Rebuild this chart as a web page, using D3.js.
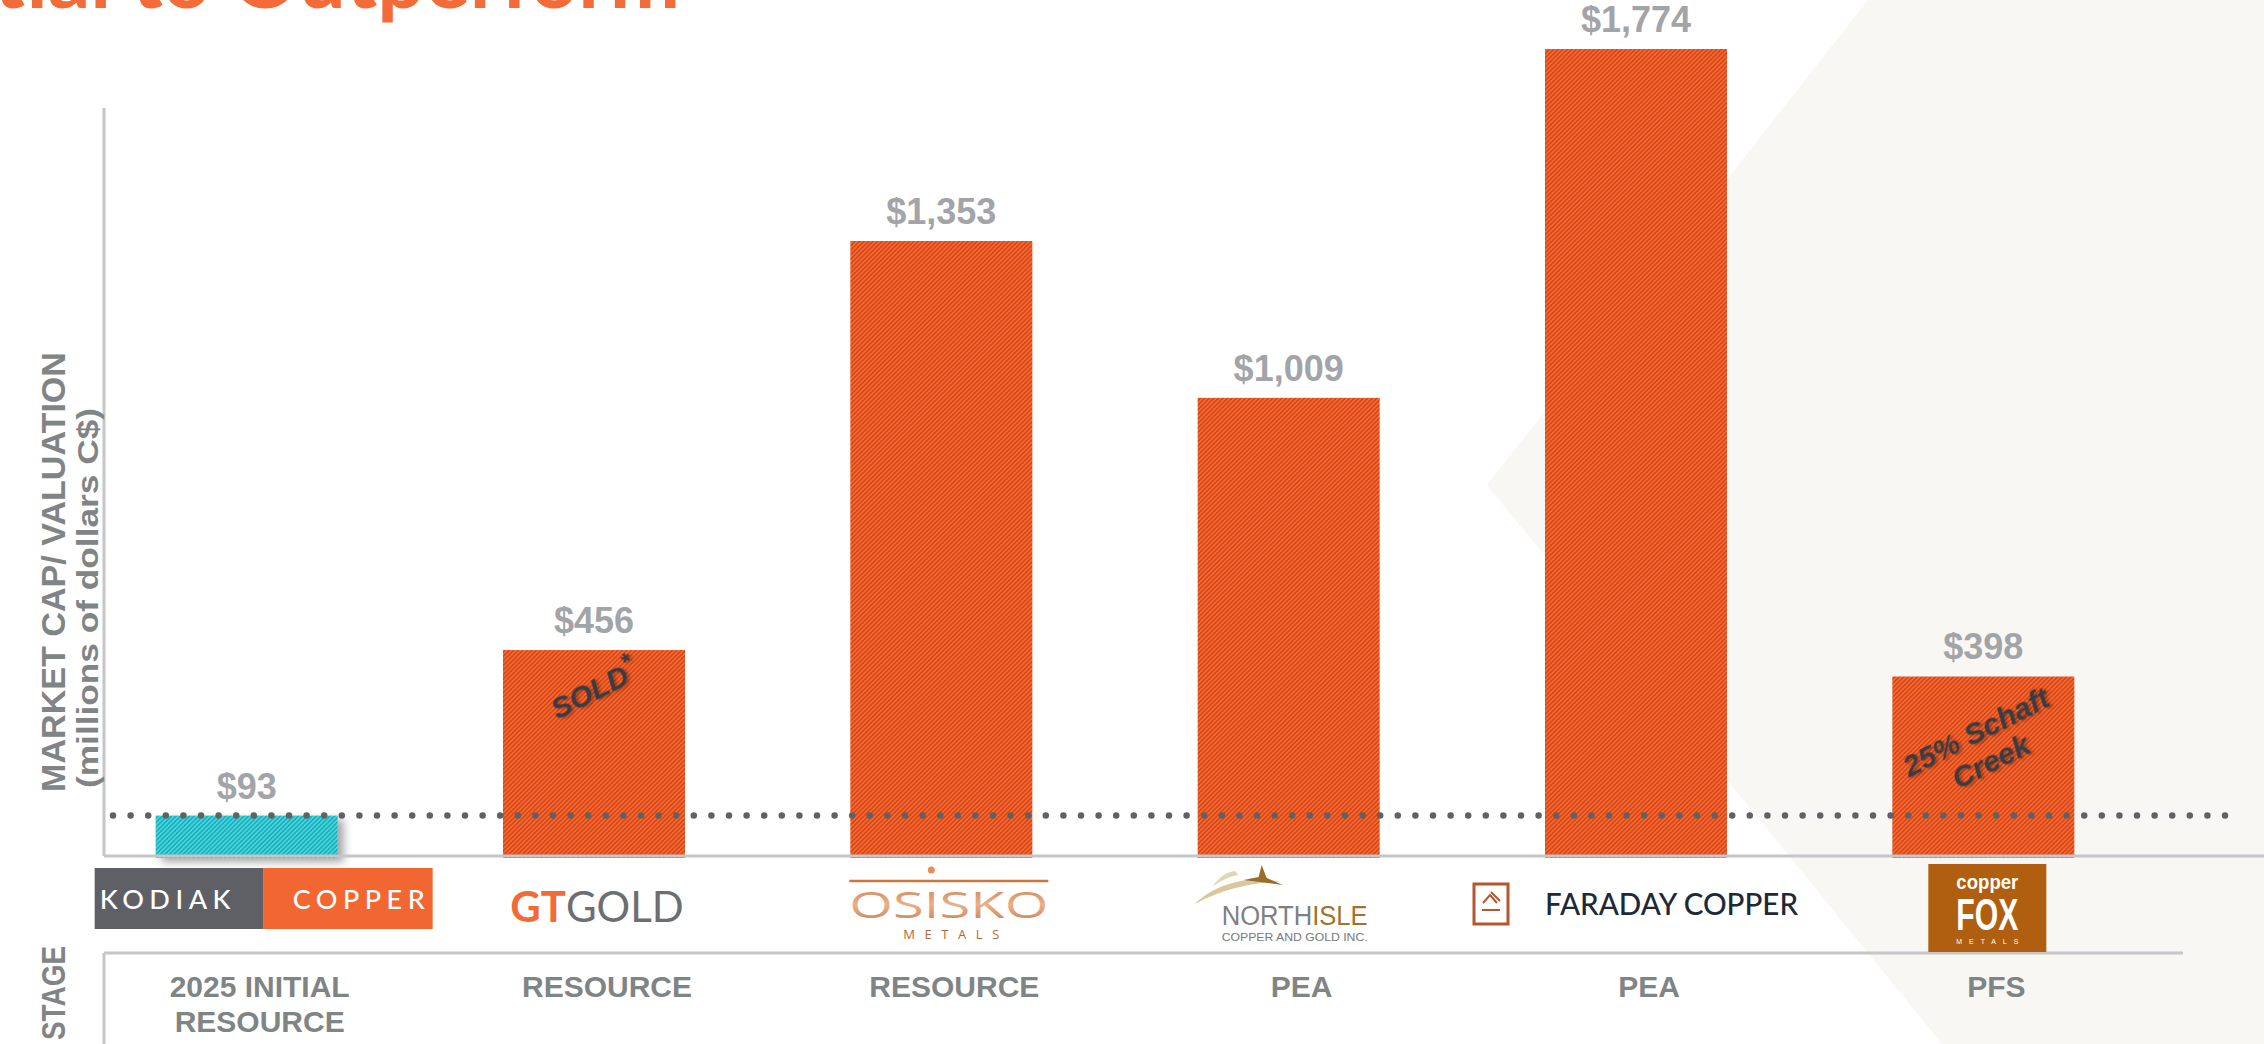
<!DOCTYPE html>
<html>
<head>
<meta charset="utf-8">
<script src="https://cdn.jsdelivr.net/npm/d3@7"></script>
<style>
  body { margin: 0; background: #fff; }
  svg { display: block; }
</style>
</head>
<body>
<div id="chart"></div>
<script>
const width = 2264;
const height = 1044;

// chart data
const companies = ["Kodiak Copper", "GT Gold", "Osisko Metals", "NorthIsle", "Faraday Copper", "Copper Fox"];
const marketCaps = [93, 456, 1353, 1009, 1774, 398];
const stages = [["2025 INITIAL", "RESOURCE"], ["RESOURCE"], ["RESOURCE"], ["PEA"], ["PEA"], ["PFS"]];
const barNotes = [null, ["SOLD*"], null, null, null, ["25% Schaft", "Creek"]];
const highlight = "Kodiak Copper";

const rows = companies.map((c, i) => ({
    company: c,
    value: marketCaps[i],
    stage: stages[i],
    note: barNotes[i]
}));

const font = "'Liberation Sans', Arial, sans-serif";
const narrow = "'Liberation Sans Narrow', 'Arial Narrow', sans-serif";

const svg = d3.select("#chart").append("svg")
    .attr("width", width)
    .attr("height", height);

const defs = svg.append("defs");

function stripes(id, light, dark) {
    const p = defs.append("pattern")
        .attr("id", id)
        .attr("patternUnits", "userSpaceOnUse")
        .attr("width", 3.2)
        .attr("height", 3.2)
        .attr("patternTransform", "rotate(45)");
    p.append("rect").attr("width", 3.2).attr("height", 3.2).attr("fill", light);
    p.append("rect").attr("width", 1.5).attr("height", 3.2).attr("fill", dark);
}
stripes("stripe-orange", "#f46b2f", "#d6421a");
stripes("stripe-cyan", "#3fd9e2", "#22a8b3");

defs.append("filter").attr("id", "barShadow")
    .attr("x", "-10%").attr("y", "-30%").attr("width", "130%").attr("height", "180%")
    .append("feDropShadow")
    .attr("dx", 6).attr("dy", 4).attr("stdDeviation", 4)
    .attr("flood-color", "#000").attr("flood-opacity", 0.35);

defs.append("filter").attr("id", "textShadow")
    .append("feDropShadow")
    .attr("dx", 2).attr("dy", 2).attr("stdDeviation", 1.5)
    .attr("flood-color", "#000").attr("flood-opacity", 0.3);

const osiskoGrad = defs.append("linearGradient").attr("id", "osiskoGrad")
    .attr("x1", 0).attr("y1", 0).attr("x2", 0).attr("y2", 1);
osiskoGrad.append("stop").attr("offset", "0%").attr("stop-color", "#c9773f");
osiskoGrad.append("stop").attr("offset", "50%").attr("stop-color", "#eab08a");
osiskoGrad.append("stop").attr("offset", "100%").attr("stop-color", "#c27038");

// beige backdrop shape on the right
svg.append("polygon")
    .attr("points", "1868,0 2264,0 2264,1044 1942,1044 1487,485")
    .attr("fill", "#f8f7f3");

// title (mostly above the visible area)
svg.append("text")
    .attr("x", 680)
    .attr("y", 8)
    .attr("text-anchor", "end")
    .attr("font-family", "Lato, 'Open Sans', sans-serif")
    .attr("font-weight", 700)
    .attr("font-size", 84)
    .attr("fill", "#f26b38")
    .text("Potential to Outperform");

// scales
const x = d3.scaleBand()
    .domain(companies)
    .range([73, 2157])
    .paddingInner(0.476)
    .paddingOuter(0.238);

const y = d3.scaleLinear()
    .domain([0, d3.max(marketCaps)])
    .range([858, 49]);

const cx = d => x(d) + x.bandwidth() / 2;

// bars
svg.append("g").selectAll("rect")
    .data(rows)
    .join("rect")
    .attr("x", d => x(d.company))
    .attr("y", d => y(d.value))
    .attr("width", x.bandwidth())
    .attr("height", d => y(0) - y(d.value))
    .attr("fill", d => d.company === highlight ? "url(#stripe-cyan)" : "url(#stripe-orange)")
    .attr("filter", d => d.company === highlight ? "url(#barShadow)" : null);

// value labels
const fmt = d3.format(",");
svg.append("g").selectAll("text")
    .data(rows)
    .join("text")
    .attr("x", d => cx(d.company))
    .attr("y", d => y(d.value) - 17)
    .attr("text-anchor", "middle")
    .attr("font-family", font)
    .attr("font-weight", 700)
    .attr("font-size", 36)
    .attr("fill", "#a2a4a8")
    .text(d => "$" + fmt(d.value));

// notes written across bars
const notes = svg.append("g").selectAll("g")
    .data(rows.filter(d => d.note))
    .join("g")
    .attr("transform", d => `translate(${cx(d.company)},${y(d.value) + 40 + (d.note.length - 1) * 30}) rotate(-27)`)
    .attr("filter", "url(#textShadow)");

notes.each(function(d) {
    const n = d.note.length;
    d3.select(this).selectAll("text")
        .data(d.note)
        .join("text")
        .attr("y", (t, i) => (i - (n - 1) / 2) * 33 + 10)
        .attr("text-anchor", "middle")
        .attr("font-family", font)
        .attr("font-weight", 700)
        .attr("font-style", "italic")
        .attr("font-size", 30)
        .attr("fill", "#3a3b42")
        .each(function(t) {
            const el = d3.select(this);
            if (t.endsWith("*")) {
                el.append("tspan").text(t.slice(0, -1));
                el.append("tspan").attr("dy", -12).attr("font-size", 24).text("*");
            } else {
                el.text(t);
            }
        });
});

// reference line at Kodiak's value
const kodiakValue = marketCaps[companies.indexOf(highlight)];
svg.append("line")
    .attr("x1", 113)
    .attr("x2", 2242)
    .attr("y1", y(kodiakValue))
    .attr("y2", y(kodiakValue))
    .attr("stroke", "#5f6167")
    .attr("stroke-width", 6.5)
    .attr("stroke-linecap", "round")
    .attr("stroke-dasharray", "0 17.6");

// frame lines
const frame = svg.append("g").attr("stroke", "#c5c6c8").attr("stroke-width", 3);
frame.append("line").attr("x1", 104).attr("x2", 104).attr("y1", 108).attr("y2", 856);
frame.append("line").attr("x1", 104).attr("x2", width).attr("y1", 856).attr("y2", 856);
frame.append("line").attr("x1", 104).attr("x2", 2183).attr("y1", 953).attr("y2", 953);
frame.append("line").attr("x1", 104).attr("x2", 104).attr("y1", 953).attr("y2", height);

// axis titles
svg.append("text")
    .attr("transform", "translate(65,792) rotate(-90)")
    .attr("font-family", font)
    .attr("font-weight", 700)
    .attr("font-size", 34)
    .attr("textLength", 440)
    .attr("lengthAdjust", "spacingAndGlyphs")
    .attr("fill", "#818485")
    .text("MARKET CAP/ VALUATION");

svg.append("text")
    .attr("transform", "translate(98,788) rotate(-90)")
    .attr("font-family", font)
    .attr("font-weight", 700)
    .attr("font-size", 29)
    .attr("textLength", 380)
    .attr("lengthAdjust", "spacingAndGlyphs")
    .attr("fill", "#818485")
    .text("(millions of dollars C$)");

svg.append("text")
    .attr("transform", "translate(65,993) rotate(-90)")
    .attr("text-anchor", "middle")
    .attr("font-family", font)
    .attr("font-weight", 700)
    .attr("font-size", 34)
    .attr("textLength", 94)
    .attr("lengthAdjust", "spacingAndGlyphs")
    .attr("fill", "#818485")
    .text("STAGE");

// stage labels
svg.append("g").selectAll("text")
    .data(rows)
    .join("text")
    .attr("text-anchor", "middle")
    .attr("font-family", font)
    .attr("font-weight", 700)
    .attr("font-size", 30)
    .attr("fill", "#7f8484")
    .each(function(d) {
        d3.select(this).selectAll("tspan")
            .data(d.stage)
            .join("tspan")
            .attr("x", cx(d.company) + 13)
            .attr("y", (t, i) => 997 + i * 35)
            .text(t => t);
    });

// ---------- logos ----------
const logos = svg.append("g");

function drawKodiak(c) {
    const g = logos.append("g");
    g.append("rect").attr("x", c - 169).attr("y", 868).attr("width", 169).attr("height", 61).attr("fill", "#5f6065");
    g.append("rect").attr("x", c).attr("y", 868).attr("width", 169).attr("height", 61).attr("fill", "#f26631");
    g.append("text").attr("x", c - 164).attr("y", 909)
        .attr("font-family", "Lato, 'Open Sans', sans-serif").attr("font-weight", 500)
        .attr("font-size", 27).attr("fill", "#fff")
        .attr("textLength", 131).attr("lengthAdjust", "spacing")
        .text("KODIAK");
    g.append("text").attr("x", c + 29).attr("y", 909)
        .attr("font-family", "Lato, 'Open Sans', sans-serif").attr("font-weight", 500)
        .attr("font-size", 27).attr("fill", "#fff")
        .attr("textLength", 132).attr("lengthAdjust", "spacing")
        .text("COPPER");
    const bear = "M0,14 L6,10 L11,7 L13,2 L16,5 L24,3 L36,2 L46,5 L51,12 L52,24 L50,36 L44,36 L44,27 L38,25 L36,36 L31,36 L31,26 L22,26 L20,36 L15,36 L15,28 L12,36 L7,36 L9,24 L8,18 L3,17 Z";
    defs.append("clipPath").attr("id", "kLeft").append("rect").attr("x", c - 169).attr("y", 860).attr("width", 169).attr("height", 80);
    defs.append("clipPath").attr("id", "kRight").append("rect").attr("x", c).attr("y", 860).attr("width", 169).attr("height", 80);
    g.append("path").attr("d", bear).attr("transform", `translate(${c - 28},878)`)
        .attr("fill", "#f26631").attr("clip-path", "url(#kLeft)");
    g.append("path").attr("d", bear).attr("transform", `translate(${c - 28},878)`)
        .attr("fill", "#5f6065").attr("clip-path", "url(#kRight)");
}

function drawGTGold(c) {
    const t = logos.append("text").attr("x", c).attr("y", 922)
        .attr("text-anchor", "middle")
        .attr("font-family", "Lato, 'Open Sans', sans-serif")
        .attr("font-size", 42);
    t.append("tspan").attr("font-weight", 700).attr("fill", "#f26a35").text("GT");
    t.append("tspan").attr("font-weight", 400).attr("fill", "#6d6e71").text("GOLD");
}

function drawOsisko(c) {
    const g = logos.append("g");
    g.append("circle").attr("cx", c - 17).attr("cy", 870).attr("r", 3.5).attr("fill", "#e98c55");
    g.append("line").attr("x1", c - 99).attr("x2", c + 100).attr("y1", 881).attr("y2", 881)
        .attr("stroke", "#c9773f").attr("stroke-width", 2.5);
    g.append("text").attr("x", c - 99).attr("y", 918)
        .attr("font-family", "'Open Sans', sans-serif").attr("font-weight", 400)
        .attr("font-size", 36).attr("fill", "url(#osiskoGrad)")
        .attr("textLength", 199).attr("lengthAdjust", "spacingAndGlyphs")
        .text("OSISKO");
    g.append("text").attr("x", c - 45).attr("y", 939)
        .attr("font-family", "'Open Sans', sans-serif").attr("font-weight", 400)
        .attr("font-size", 13).attr("fill", "#b3673a")
        .attr("textLength", 96).attr("lengthAdjust", "spacing")
        .text("METALS");
}

function drawNorthIsle(c) {
    const g = logos.append("g");
    const l = c - 92;
    g.append("path")
        .attr("d", `M${l},904 C${l + 18},886 ${l + 45},878 ${l + 72},879 L${l + 86},882 C${l + 58},882 ${l + 28},889 ${l},904 Z`)
        .attr("fill", "#d8c89c");
    g.append("path")
        .attr("d", `M${l + 18},886 C${l + 25},877 ${l + 32},872 ${l + 40},871 L${l + 44},875 C${l + 35},876 ${l + 27},881 ${l + 18},886 Z`)
        .attr("fill", "#e2d5b3");
    g.append("path")
        .attr("d", `M${l + 49},880 L${l + 64},877 L${l + 67},865 L${l + 72},878 L${l + 88},885 L${l + 65},882 Z`)
        .attr("fill", "#9c6b26");
    const t = g.append("text").attr("x", l + 27).attr("y", 925)
        .attr("font-family", narrow).attr("font-size", 27)
        .attr("textLength", 146).attr("lengthAdjust", "spacingAndGlyphs");
    t.append("tspan").attr("fill", "#7d7f82").text("NORTH");
    t.append("tspan").attr("fill", "#a0732a").text("ISLE");
    g.append("text").attr("x", l + 27).attr("y", 941)
        .attr("font-family", narrow).attr("font-size", 11).attr("fill", "#77797c")
        .attr("textLength", 146).attr("lengthAdjust", "spacingAndGlyphs")
        .text("COPPER AND GOLD INC.");
}

function drawFaraday(c) {
    const g = logos.append("g");
    const l = c - 162;
    g.append("rect").attr("x", l).attr("y", 884).attr("width", 34).attr("height", 40)
        .attr("fill", "none").attr("stroke", "#b4562f").attr("stroke-width", 3);
    g.append("polyline")
        .attr("points", `${l + 9},903 ${l + 16},895 ${l + 23},903`)
        .attr("fill", "none").attr("stroke", "#b4562f").attr("stroke-width", 2);
    g.append("line").attr("x1", l + 17).attr("y1", 892).attr("x2", l + 26).attr("y2", 901)
        .attr("stroke", "#b4562f").attr("stroke-width", 2);
    g.append("line").attr("x1", l + 8).attr("y1", 910).attr("x2", l + 26).attr("y2", 910)
        .attr("stroke", "#b4562f").attr("stroke-width", 2);
    g.append("text").attr("x", l + 71).attr("y", 915)
        .attr("font-family", "Lato, 'Open Sans', sans-serif").attr("font-weight", 500)
        .attr("font-size", 30).attr("fill", "#1d2a35")
        .attr("textLength", 253).attr("lengthAdjust", "spacingAndGlyphs")
        .text("FARADAY COPPER");
}

function drawCopperFox(c) {
    const g = logos.append("g");
    g.append("rect").attr("x", c - 59).attr("y", 864).attr("width", 118).attr("height", 88).attr("fill", "#b05f10");
    g.append("text").attr("x", c - 31).attr("y", 889)
        .attr("font-family", narrow).attr("font-weight", 700).attr("font-size", 21).attr("fill", "#fff")
        .attr("textLength", 62).attr("lengthAdjust", "spacingAndGlyphs")
        .text("copper");
    g.append("text").attr("x", c - 31).attr("y", 930)
        .attr("font-family", narrow).attr("font-weight", 700).attr("font-size", 44).attr("fill", "#fff")
        .attr("textLength", 62).attr("lengthAdjust", "spacingAndGlyphs")
        .text("FOX");
    g.append("text").attr("x", c - 31).attr("y", 944)
        .attr("font-family", font).attr("font-size", 7).attr("fill", "#fff")
        .attr("textLength", 62).attr("lengthAdjust", "spacing")
        .text("METALS");
}

const logoDrawers = [drawKodiak, drawGTGold, drawOsisko, drawNorthIsle, drawFaraday, drawCopperFox];
const logoShift = [17, 3, 7, -2, 0, 4];
companies.forEach((c, i) => logoDrawers[i](cx(c) + logoShift[i]));
</script>
</body>
</html>
